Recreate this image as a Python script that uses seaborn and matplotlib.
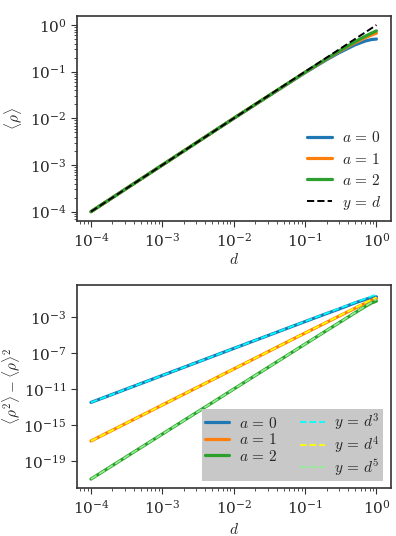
import numpy as np
import matplotlib
matplotlib.use('Agg')
import matplotlib.pyplot as plt
import seaborn as sns
from matplotlib.ticker import LogLocator, NullLocator

# ── data ──
d = [1e-4, 1e-3, 1e-2, 0.1, 0.2, 0.3, 0.5, 0.7, 0.85, 1.0]

rho_a0 = [1e-4, 1e-3, 1e-2, 0.095, 0.18, 0.255, 0.375, 0.455, 0.489, 0.50]
rho_a1 = [1e-4, 1e-3, 1e-2, 0.0967, 0.187, 0.27, 0.417, 0.537, 0.609, 0.667]
rho_a2 = [1e-4, 1e-3, 1e-2, 0.0975, 0.19, 0.2775, 0.4375, 0.5775, 0.669, 0.75]
ref_lin = [1e-4, 1e-3, 1e-2, 0.1, 0.2, 0.3, 0.5, 0.7, 0.85, 1.0]

var_a0 = [3.3e-13, 3.3e-10, 3.3e-7, 3.2e-4, 2.5e-3, 8.0e-3, 0.038, 0.095, 0.14, 0.18]
var_a1 = [1.7e-17, 1.7e-13, 1.7e-9, 1.7e-5, 2.6e-4, 1.3e-3, 0.0095, 0.036, 0.072, 0.11]
var_a2 = [1e-21, 1e-16, 1e-11, 1e-6, 3.2e-5, 2.4e-4, 3.0e-3, 0.0155, 0.037, 0.06]
fit_d3 = [3.3e-13, 3.3e-10, 3.3e-7, 3.3e-4, 2.7e-3, 9.0e-3, 0.042, 0.114, 0.205, 0.35]
fit_d4 = [1.7e-17, 1.7e-13, 1.7e-9, 1.7e-5, 2.7e-4, 1.35e-3, 0.0104, 0.040, 0.087, 0.16]
fit_d5 = [1e-21, 1e-16, 1e-11, 1e-6, 3.2e-5, 2.43e-4, 3.1e-3, 0.0168, 0.044, 0.10]

a_labels = [r'$a\,=\,0$', r'$a\,=\,1$', r'$a\,=\,2$']
fit_labels = [r'$y\,=\,d^3$', r'$y\,=\,d^4$', r'$y\,=\,d^5$']
a_colors = ['#1f77b4', '#ff7f0e', '#2ca02c']
fit_colors = ['cyan', 'yellow', 'lightgreen']

sns.set_style('ticks')
plt.rcParams['mathtext.fontset'] = 'cm'
plt.rcParams['font.family'] = ['DejaVu Serif']
plt.rcParams['font.size'] = 11

fig = plt.figure(figsize=(3.96, 5.36), dpi=100)
W, H = 396, 536
ax1 = fig.add_axes([76.7 / W, 1 - 221 / H, 314 / W, 205.3 / H])
ax2 = fig.add_axes([76.7 / W, 1 - 488.3 / H, 314 / W, 203.3 / H])

# ── top: <rho> ──
for y, lab, c in zip([rho_a0, rho_a1, rho_a2], a_labels, a_colors):
    sns.lineplot(x=d, y=y, ax=ax1, color=c, lw=2.3, label=lab)
sns.lineplot(x=d, y=ref_lin, ax=ax1, color='black', lw=1.4, ls='--', label=r'$y\,=\,d$')
ax1.set_xscale('log')
ax1.set_yscale('log')
ax1.set_xlabel(r'$d$', fontsize=11, labelpad=2)
ax1.set_ylabel(r'$\langle\rho\rangle$', fontsize=11)
ax1.legend(loc='lower right', frameon=False, fontsize=11, handlelength=1.6,
           labelspacing=0.4, handletextpad=0.7, borderaxespad=0.2)

# ── bottom: variance ──
for y, lab, c in zip([var_a0, var_a1, var_a2], a_labels, a_colors):
    sns.lineplot(x=d, y=y, ax=ax2, color=c, lw=2.3, label=lab)
for y, lab, c in zip([fit_d3, fit_d4, fit_d5], fit_labels, fit_colors):
    sns.lineplot(x=d, y=y, ax=ax2, color=c, lw=1.3, ls='--', label=lab)
ax2.set_xscale('log')
ax2.set_yscale('log')
ax2.set_yticks([1e-19, 1e-15, 1e-11, 1e-7, 1e-3])
ax2.yaxis.set_minor_locator(NullLocator())
ax2.set_xlabel(r'$d$', fontsize=11)
ax2.set_ylabel(r'$\langle\rho^2\rangle-\langle\rho\rangle^2$', fontsize=11, labelpad=1)
ax2.legend(loc='lower right', ncol=2, fontsize=11, fancybox=False,
           facecolor='#c8c8c8', edgecolor='none', framealpha=1,
           labelspacing=0.1, columnspacing=1.5, handlelength=1.6,
           handletextpad=0.6, borderpad=0.2, borderaxespad=0.5)

for ax in (ax1, ax2):
    ax.set_xticks([1e-4, 1e-3, 1e-2, 1e-1, 1e0])
    ax.xaxis.set_minor_locator(LogLocator(base=10, subs=np.arange(2, 10), numticks=30))
    for sp in ax.spines.values():
        sp.set_color('#333333')
        sp.set_linewidth(1.2)
    ax.tick_params(which='both', direction='out', color='#333333', labelsize=11)
    ax.tick_params(which='major', length=4)
    ax.tick_params(which='minor', length=2)
ax1.yaxis.set_minor_locator(LogLocator(base=10, subs=np.arange(2, 10), numticks=30))

fig.savefig('out.png', dpi=100)
